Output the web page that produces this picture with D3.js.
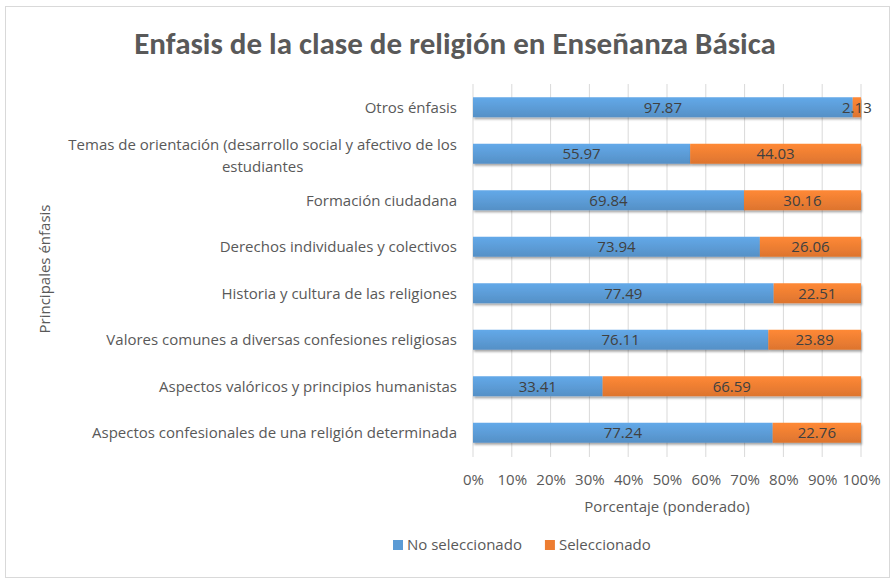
<!DOCTYPE html>
<html>
<head>
<meta charset="utf-8">
<script src="https://cdn.jsdelivr.net/npm/d3@7"></script>
<style>
  body { margin: 0; background: #fff; }
  text { font-family: "Open Sans", sans-serif; }
</style>
</head>
<body>
<script>
// datos
const categorias = [
  "Otros énfasis",
  "Temas de orientación (desarrollo social y afectivo de los|estudiantes",
  "Formación ciudadana",
  "Derechos individuales y colectivos",
  "Historia y cultura de las religiones",
  "Valores comunes a diversas confesiones religiosas",
  "Aspectos valóricos y principios humanistas",
  "Aspectos confesionales de una religión determinada"
];
const noSeleccionado = [97.87, 55.97, 69.84, 73.94, 77.49, 76.11, 33.41, 77.24];
const seleccionado = [2.13, 44.03, 30.16, 26.06, 22.51, 23.89, 66.59, 22.76];
const series = ["No seleccionado", "Seleccionado"];
const colores = ["#5b9bd5", "#ed7d31"];
const ticks = [0, 10, 20, 30, 40, 50, 60, 70, 80, 90, 100];

const width = 894, height = 583;
const gris = "#595959";

const svg = d3.select("body").append("svg")
  .attr("width", width)
  .attr("height", height);

// gradients like excel
const defs = svg.append("defs");
colores.forEach((c, i) => {
  const g = defs.append("linearGradient")
    .attr("id", "grad" + i)
    .attr("x1", 0).attr("y1", 0).attr("x2", 0).attr("y2", 1);
  g.append("stop").attr("offset", "0%").attr("stop-color", d3.color(c).brighter(0.25));
  g.append("stop").attr("offset", "100%").attr("stop-color", d3.color(c).darker(0.2));
});
const f = defs.append("filter").attr("id", "sombra")
  .attr("x", "-5%").attr("y", "-20%").attr("width", "110%").attr("height", "160%");
f.append("feDropShadow").attr("dx", 1).attr("dy", 2).attr("stdDeviation", 1.2)
  .attr("flood-color", "#000").attr("flood-opacity", 0.35);

// chart border
svg.append("rect")
  .attr("x", 5.5).attr("y", 6.5)
  .attr("width", 884).attr("height", 571)
  .attr("fill", "#fff")
  .attr("stroke", "#d9d9d9");

svg.append("text")
  .attr("x", 455).attr("y", 54)
  .attr("text-anchor", "middle")
  .attr("font-size", 31)
  .attr("font-weight", "bold")
  .attr("fill", gris)
  .style("font-family", "Carlito, Lato, sans-serif")
  .text("Enfasis de la clase de religión en Enseñanza Básica");

const x = d3.scaleLinear().domain([0, 100]).range([473, 861]);
const y = d3.scaleBand().domain(categorias).range([84, 456]).paddingInner(0.57).paddingOuter(0.285);

// gridlines
svg.append("g").selectAll("line")
  .data(ticks)
  .join("line")
  .attr("x1", d => x(d)).attr("x2", d => x(d))
  .attr("y1", 84).attr("y2", 457)
  .attr("stroke", "#d9d9d9");

// tick labels
const xAxis = svg.append("g")
  .attr("transform", "translate(0,471)")
  .call(d3.axisBottom(x).tickValues(ticks).tickFormat(d => d + "%").tickSize(0));
xAxis.select(".domain").remove();
xAxis.selectAll("text")
  .attr("font-size", 15)
  .attr("fill", gris)
  .style("font-family", "'Open Sans', sans-serif");

// bars
const filas = categorias.map((c, i) => ({ c, vals: [noSeleccionado[i], seleccionado[i]] }));
filas.forEach(fila => {
  let acc = 0;
  fila.vals.forEach((v, j) => {
    const x0 = acc;
    acc += v;
    svg.append("rect")
      .attr("x", x(x0))
      .attr("y", y(fila.c))
      .attr("width", x(acc) - x(x0))
      .attr("height", y.bandwidth())
      .attr("fill", "url(#grad" + j + ")")
      .attr("filter", "url(#sombra)");
  });
});

// data labels
filas.forEach(fila => {
  let acc = 0;
  fila.vals.forEach(v => {
    const x0 = acc;
    acc += v;
    svg.append("text")
      .attr("x", (x(x0) + x(acc)) / 2)
      .attr("y", y(fila.c) + y.bandwidth() / 2)
      .attr("dy", "0.35em")
      .attr("text-anchor", "middle")
      .attr("font-size", 15)
      .attr("fill", "#404040")
      .text(v.toFixed(2));
  });
});

// category labels
categorias.forEach(c => {
  const partes = c.split("|");
  const cy = y(c) + y.bandwidth() / 2;
  if (partes.length === 1) {
    svg.append("text")
      .attr("x", 457).attr("y", cy).attr("dy", "0.35em")
      .attr("text-anchor", "end")
      .attr("font-size", 15).attr("fill", gris)
      .text(c);
  } else {
    const t1 = svg.append("text")
      .attr("x", 457).attr("y", cy - 9).attr("dy", "0.35em")
      .attr("text-anchor", "end")
      .attr("font-size", 15).attr("fill", gris)
      .text(partes[0]);
    const w = t1.node().getComputedTextLength();
    svg.append("text")
      .attr("x", 457 - w / 2).attr("y", cy + 13).attr("dy", "0.35em")
      .attr("text-anchor", "middle")
      .attr("font-size", 15).attr("fill", gris)
      .text(partes[1]);
  }
});

// axis titles
svg.append("text")
  .attr("x", x(50)).attr("y", 512)
  .attr("text-anchor", "middle")
  .attr("font-size", 15).attr("fill", gris)
  .text("Porcentaje (ponderado)");

svg.append("text")
  .attr("transform", "translate(50,269) rotate(-90)")
  .attr("text-anchor", "middle")
  .attr("font-size", 15).attr("fill", gris)
  .text("Principales énfasis");

// legend
const leyenda = svg.append("g").attr("transform", "translate(393,545)");
let lx = 0;
series.forEach((s, i) => {
  const g = leyenda.append("g").attr("transform", `translate(${lx},0)`);
  g.append("rect").attr("x", 0).attr("y", -5).attr("width", 10).attr("height", 10).attr("fill", colores[i]);
  const t = g.append("text").attr("x", 14).attr("y", 0).attr("dy", "0.35em")
    .attr("font-size", 15).attr("fill", gris).text(s);
  lx += 14 + t.node().getComputedTextLength() + 23;
});
</script>
</body>
</html>
